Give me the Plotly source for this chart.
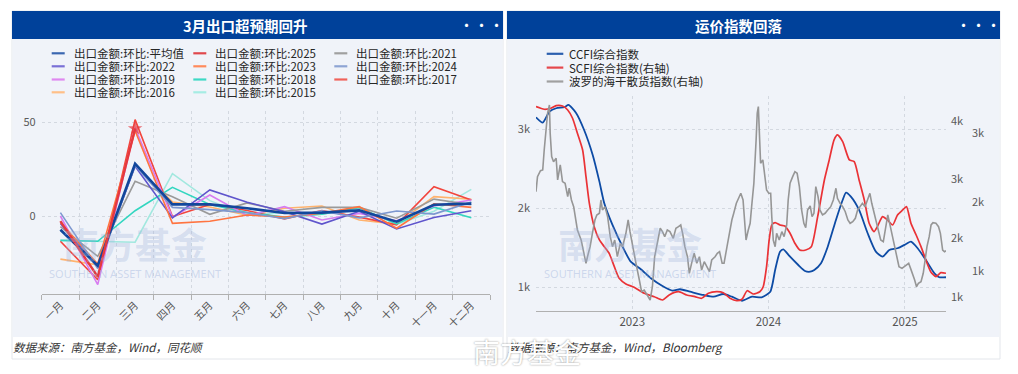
import plotly.graph_objects as go

# The page body has an 8px margin, so the figure is drawn 8px in; all
# positions below are given in screen pixels and converted.
OX, OY = 8, 8
W, H = 1002, 366
def fx(px): return (px - OX) / W
def fy(py): return 1 - (py - OY) / H

FONT = "Noto Sans CJK SC, Noto Sans, sans-serif"

# ---------------- left chart data ----------------
MONTHS = ["一月", "二月", "三月", "四月", "五月", "六月", "七月", "八月", "九月", "十月", "十一月", "十二月"]

Y_AVG  = [-7.3, -26.5, 27.9, 6.2, 6.2, 4.1, 1.6, 1.8, 3.0, -3.0, 6.0, 6.6]
Y_2025 = [-2.7, -32.4, 46.6]
Y_2021 = [-5.7, -21.5, 18.5, 10.3, 0.9, 7.0, 2.5, 4.6, 4.6, -1.2, 9.0, 6.0]
Y_2022 = [-4.0, -27.0, 26.5, -1.0, 13.9, 7.3, 2.3, -4.3, 2.5, -6.9, -0.8, 2.8]
Y_2023 = [-3.5, -25.6, 45.5, -3.9, -2.8, 0.5, -0.5, 1.5, 5.0, -6.5, 6.5, 4.6]
Y_2024 = [1.8, -28.0, 27.0, 4.6, 3.4, 1.8, -1.5, 2.7, -1.0, 2.7, 1.0, 7.5]
Y_2019 = [0.0, -36.6, 47.0, -0.7, 11.2, 0.2, 5.0, -2.1, 1.4, -2.5, 5.3, 8.5]
Y_2018 = [-13.0, -13.5, 2.8, 15.3, 6.2, 1.8, -0.6, 0.9, 4.4, -4.2, 4.7, -0.9]
Y_2017 = [-13.5, -34.0, 51.4, -0.3, 6.1, 2.9, -1.5, 2.9, -0.6, -4.7, 15.6, 8.5]
Y_2016 = [-23.0, -26.0, 27.0, 7.5, 4.8, 0.4, 4.1, 5.3, -2.1, -4.3, 10.3, 8.9]
Y_2015 = [-13.0, -13.6, -14.0, 22.6, 8.2, 0.6, 1.7, 0.9, 4.5, -4.5, 2.5, 14.2]

LEFT_NAMES = ["出口金额:环比:平均值", "出口金额:环比:2025", "出口金额:环比:2021",
              "出口金额:环比:2022", "出口金额:环比:2023", "出口金额:环比:2024",
              "出口金额:环比:2019", "出口金额:环比:2018", "出口金额:环比:2017",
              "出口金额:环比:2016", "出口金额:环比:2015"]
LEFT_VALUES = [Y_AVG, Y_2025, Y_2021, Y_2022, Y_2023, Y_2024, Y_2019, Y_2018, Y_2017, Y_2016, Y_2015]
LEFT_COLORS = ["#12479c", "#e5393f", "#9a9a9a", "#5f55cc", "#ff7440", "#7d97cf",
               "#d77cf0", "#33d6c0", "#f2453d", "#ffb36e", "#a2e8df"]
LEGEND_COLORS = ["#3a66b0", "#e0474c", "#a0a0a0", "#7a70d6", "#ff8a5c", "#8ea4d4",
                 "#df88f0", "#3dd9c5", "#f0625a", "#ffbf88", "#a6ece4"]
LEFT_WIDTHS = [2.6, 2.4, 1.6, 1.6, 1.6, 1.6, 1.6, 1.6, 1.6, 1.6, 1.6]
DRAW_ORDER = [10, 9, 8, 7, 6, 2, 3, 4, 5, 0, 1]

# ---------------- right chart data ----------------
CCFI_DATES = ["2022-04-18", "2022-05-06", "2022-05-24", "2022-06-11", "2022-07-03", "2022-07-14", "2022-08-03",
              "2022-08-25", "2022-09-17", "2022-10-05", "2022-10-18", "2022-11-09", "2022-12-06", "2022-12-28",
              "2023-01-24", "2023-02-20", "2023-03-23", "2023-04-19", "2023-05-09", "2023-06-05", "2023-07-11",
              "2023-08-07", "2023-09-02", "2023-09-25", "2023-10-22", "2023-11-18", "2023-12-14", "2024-01-06",
              "2024-01-19", "2024-02-01", "2024-02-10", "2024-02-28", "2024-03-21", "2024-04-08", "2024-04-22",
              "2024-05-03", "2024-05-21", "2024-06-08", "2024-06-30", "2024-07-18", "2024-07-27", "2024-08-09",
              "2024-08-31", "2024-09-23", "2024-10-15", "2024-11-02", "2024-11-20", "2024-12-12", "2025-01-04",
              "2025-01-17", "2025-02-04", "2025-02-26", "2025-03-21", "2025-04-03", "2025-04-21"]
CCFI = [3152, 3084, 3223, 3266, 3279, 3308, 3210,
        2991, 2675, 2337, 2063, 1789, 1514, 1324,
        1228, 1114, 1016, 957, 975, 944, 903,
        881, 915, 881, 830, 881, 873, 944,
        1219, 1451, 1481, 1387, 1282, 1206, 1197,
        1219, 1304, 1514, 1852, 2105, 2198, 2147,
        1979, 1684, 1451, 1387, 1472, 1494, 1548,
        1577, 1494, 1346, 1177, 1127, 1127]

SCFI_DATES = ["2022-04-18", "2022-05-10", "2022-05-28", "2022-06-11", "2022-06-28", "2022-07-12", "2022-07-25",
              "2022-08-07", "2022-08-21", "2022-08-30", "2022-09-08", "2022-09-21", "2022-10-05", "2022-10-18",
              "2022-10-31", "2022-11-14", "2022-11-27", "2022-12-15", "2023-01-06", "2023-02-02", "2023-03-01",
              "2023-03-23", "2023-04-10", "2023-05-05", "2023-05-27", "2023-06-18", "2023-07-06", "2023-07-24",
              "2023-08-15", "2023-09-02", "2023-09-20", "2023-10-08", "2023-10-22", "2023-11-05", "2023-11-21",
              "2023-12-09", "2023-12-18", "2023-12-27", "2024-01-03", "2024-01-10", "2024-01-19", "2024-02-01",
              "2024-02-14", "2024-02-28", "2024-03-12", "2024-03-25", "2024-04-10", "2024-04-25", "2024-05-12",
              "2024-05-30", "2024-06-12", "2024-06-25", "2024-07-04", "2024-07-18", "2024-08-05", "2024-08-18",
              "2024-08-31", "2024-09-14", "2024-09-27", "2024-10-10", "2024-10-19", "2024-11-02", "2024-11-15",
              "2024-11-29", "2024-12-12", "2024-12-26", "2025-01-05", "2025-01-17", "2025-01-31", "2025-02-13",
              "2025-02-26", "2025-03-11", "2025-03-25", "2025-04-07", "2025-04-21"]
SCFI = [4240, 4195, 4212, 4257, 4251, 4183, 4042,
        3786, 3501, 3046, 2592, 2194, 1967, 1853,
        1740, 1512, 1314, 1217, 1160, 1058, 1000,
        944, 1030, 1085, 1029, 1000, 973, 1058,
        1085, 1068, 973, 932, 956, 1102, 1046,
        1085, 1170, 1512, 1967, 2222, 2262, 2222,
        2205, 2081, 1910, 1796, 1796, 1853, 2364,
        2990, 3331, 3672, 3757, 3643, 3331, 3302,
        2990, 2649, 2252, 2109, 2194, 2364, 2308,
        2222, 2393, 2478, 2535, 2252, 2052, 1853,
        1626, 1426, 1341, 1409, 1399]

BDI_DATES = ["2022-04-18", "2022-04-22", "2022-04-30", "2022-05-06", "2022-05-10", "2022-05-15", "2022-05-19",
             "2022-05-24", "2022-05-26", "2022-05-30", "2022-06-04", "2022-06-11", "2022-06-15", "2022-06-22",
             "2022-06-28", "2022-07-05", "2022-07-12", "2022-07-16", "2022-07-22", "2022-07-28", "2022-08-03",
             "2022-08-07", "2022-08-17", "2022-08-24", "2022-08-30", "2022-09-03", "2022-09-10", "2022-09-17",
             "2022-09-23", "2022-09-28", "2022-10-05", "2022-10-09", "2022-10-13", "2022-10-20", "2022-10-27",
             "2022-11-03", "2022-11-09", "2022-11-15", "2022-11-22", "2022-11-30", "2022-12-06", "2022-12-15",
             "2022-12-21", "2022-12-26", "2023-01-02", "2023-01-11", "2023-01-20", "2023-01-26", "2023-02-02",
             "2023-02-11", "2023-02-18", "2023-02-24", "2023-03-02", "2023-03-09", "2023-03-17", "2023-03-23",
             "2023-03-29", "2023-04-05", "2023-04-12", "2023-04-21", "2023-04-28", "2023-05-05", "2023-05-11",
             "2023-05-16", "2023-05-22", "2023-05-29", "2023-06-03", "2023-06-09", "2023-06-16", "2023-06-23",
             "2023-06-30", "2023-07-06", "2023-07-13", "2023-07-20", "2023-07-27", "2023-08-02", "2023-08-11",
             "2023-08-17", "2023-08-23", "2023-08-30", "2023-09-04", "2023-09-12", "2023-09-19", "2023-09-25",
             "2023-09-30", "2023-10-07", "2023-10-13", "2023-10-19", "2023-10-25", "2023-10-28", "2023-11-02",
             "2023-11-08", "2023-11-13", "2023-11-17", "2023-11-23", "2023-11-29", "2023-12-02", "2023-12-05",
             "2023-12-07", "2023-12-11", "2023-12-17", "2023-12-22", "2023-12-27", "2024-01-02", "2024-01-07",
             "2024-01-10", "2024-01-14", "2024-01-19", "2024-01-23", "2024-01-30", "2024-02-06", "2024-02-12",
             "2024-02-19", "2024-02-23", "2024-02-28", "2024-03-06", "2024-03-12", "2024-03-18", "2024-03-24",
             "2024-03-30", "2024-04-05", "2024-04-10", "2024-04-15", "2024-04-22", "2024-04-27", "2024-05-02",
             "2024-05-07", "2024-05-13", "2024-05-18", "2024-05-25", "2024-06-01", "2024-06-08", "2024-06-16",
             "2024-06-23", "2024-06-30", "2024-07-04", "2024-07-11", "2024-07-18", "2024-07-25", "2024-08-01",
             "2024-08-07", "2024-08-14", "2024-08-21", "2024-08-27", "2024-09-02", "2024-09-09", "2024-09-16",
             "2024-09-23", "2024-09-29", "2024-10-04", "2024-10-10", "2024-10-17", "2024-10-22", "2024-10-28",
             "2024-11-04", "2024-11-11", "2024-11-16", "2024-11-21", "2024-11-27", "2024-12-03", "2024-12-09",
             "2024-12-16", "2024-12-24", "2024-12-30", "2025-01-05", "2025-01-11", "2025-01-16", "2025-01-21",
             "2025-01-27", "2025-02-01", "2025-02-06", "2025-02-13", "2025-02-19", "2025-02-24", "2025-03-01",
             "2025-03-07", "2025-03-12", "2025-03-17", "2025-03-25", "2025-04-01", "2025-04-06", "2025-04-12",
             "2025-04-17", "2025-04-21"]
BDI = [2146, 2363, 2450, 2460, 2750, 3088, 3282,
       3403, 2992, 2653, 2580, 2630, 2315, 2533,
       2291, 2267, 2073, 2195, 2025, 1928, 1687,
       1590, 1445, 1252, 1107, 1203, 1348, 1566,
       1735, 1808, 1832, 2025, 1880, 1928, 1783,
       1493, 1348, 1445, 1203, 1397, 1348, 1542,
       1735, 1566, 1348, 1107, 865, 696, 720,
       648, 575, 768, 1203, 1397, 1615, 1566,
       1493, 1590, 1566, 1470, 1615, 1638, 1663,
       1542, 1348, 1203, 962, 1107, 1252, 1107,
       1203, 1010, 1131, 1058, 986, 1155, 1203,
       1252, 1276, 1107, 1107, 1348, 1590, 1735,
       1832, 1977, 2050, 2122, 2025, 1735, 1445,
       1590, 1687, 1928, 2267, 2895, 3282, 3378,
       3088, 2557, 2605, 2363, 2170, 2122, 2122,
       1783, 1445, 1348, 1542, 1445, 1566, 1493,
       1663, 2025, 2267, 2363, 2436, 2412, 2218,
       1880, 1687, 1625, 1880, 1938, 1783, 1832,
       2218, 2073, 1880, 1808, 1832, 1880, 1928,
       2025, 2195, 2050, 1977, 1928, 1855, 1735,
       1687, 1711, 1760, 1880, 1928, 1977, 1928,
       2025, 2122, 1977, 1832, 1687, 1542, 1445,
       1421, 1638, 1808, 1687, 1542, 1348, 1203,
       1058, 1034, 1058, 1083, 1107, 1034, 962,
       865, 768, 817, 841, 962, 1155, 1348,
       1493, 1663, 1696, 1687, 1638, 1542, 1300,
       1276, 1290]

RIGHT_NAMES = ["CCFI综合指数", "SCFI综合指数(右轴)", "波罗的海干散货指数(右轴)"]
RIGHT_COLORS = ["#0d4ba5", "#ea3236", "#969696"]
RIGHT_LEGEND_COLORS = ["#2b5fae", "#e5474c", "#a0a0a0"]

YEAR_TICKS = ["2023-01-01", "2024-01-01", "2025-01-01"]
YEAR_LABELS = ["2023", "2024", "2025"]

fig = go.Figure()

# ---------------- left chart traces ----------------
for i in DRAW_ORDER:
    vals = LEFT_VALUES[i]
    is_cur = (i == 1)
    fig.add_trace(go.Scatter(
        x=MONTHS[:len(vals)], y=vals, name=LEFT_NAMES[i],
        mode="lines+markers" if is_cur else "lines",
        line=dict(color=LEFT_COLORS[i], width=LEFT_WIDTHS[i]),
        marker=dict(symbol="star", size=[0] * (len(vals) - 1) + [11], color=LEFT_COLORS[i],
                    line=dict(width=0)) if is_cur else None,
        xaxis="x", yaxis="y", showlegend=False, hoverinfo="skip"))

# ---------------- right chart traces ----------------
fig.add_trace(go.Scatter(x=BDI_DATES, y=BDI, name=RIGHT_NAMES[2], mode="lines",
                         line=dict(color=RIGHT_COLORS[2], width=1.6), xaxis="x2", yaxis="y4",
                         showlegend=False, hoverinfo="skip"))
fig.add_trace(go.Scatter(x=SCFI_DATES, y=SCFI, name=RIGHT_NAMES[1], mode="lines",
                         line=dict(color=RIGHT_COLORS[1], width=1.7, shape="spline", smoothing=0.6),
                         xaxis="x2", yaxis="y3", showlegend=False, hoverinfo="skip"))
fig.add_trace(go.Scatter(x=CCFI_DATES, y=CCFI, name=RIGHT_NAMES[0], mode="lines",
                         line=dict(color=RIGHT_COLORS[0], width=1.8, shape="spline", smoothing=0.6),
                         xaxis="x2", yaxis="y2", showlegend=False, hoverinfo="skip"))

GRID = "#d3d8e0"
TICKFONT = dict(family=FONT, size=11, color="#5a5a5a")

shapes = []
annotations = []

# ---------------- cards ----------------
for (x0, x1) in [(12, 503), (507, 1000)]:
    shapes.append(dict(type="rect", xref="paper", yref="paper", layer="below",
                       x0=fx(x0), x1=fx(x1), y0=fy(359), y1=fy(11),
                       fillcolor="#ffffff", line=dict(color="#e3e6eb", width=1)))
    shapes.append(dict(type="rect", xref="paper", yref="paper", layer="below",
                       x0=fx(x0 + 0.5), x1=fx(x1 - 0.5), y0=fy(337), y1=fy(39),
                       fillcolor="#f0f3f9", line=dict(width=0)))
    shapes.append(dict(type="rect", xref="paper", yref="paper", layer="below",
                       x0=fx(x0), x1=fx(x1), y0=fy(39), y1=fy(11),
                       fillcolor="#00419a", line=dict(width=0)))
    annotations.append(dict(xref="paper", yref="paper", x=fx(x1 - 22), y=fy(24.5), text="···",
                            showarrow=False, xanchor="center", yanchor="middle",
                            font=dict(family=FONT, size=15, color="#ffffff")))

annotations.append(dict(xref="paper", yref="paper", x=fx(245), y=fy(25), text="<b>3月出口超预期回升</b>",
                        showarrow=False, xanchor="center", yanchor="middle",
                        font=dict(family=FONT, size=14.5, color="#ffffff")))
annotations.append(dict(xref="paper", yref="paper", x=fx(739), y=fy(25), text="<b>运价指数回落</b>",
                        showarrow=False, xanchor="center", yanchor="middle",
                        font=dict(family=FONT, size=14.5, color="#ffffff")))

# ---------------- watermarks in plots ----------------
for xc in [135, 630]:
    annotations.append(dict(xref="paper", yref="paper", x=fx(xc), y=fy(243), text="<b>南方基金</b>",
                            showarrow=False, xanchor="center", yanchor="middle",
                            font=dict(family=FONT, size=36, color="rgba(160,180,220,0.33)")))
    annotations.append(dict(xref="paper", yref="paper", x=fx(xc), y=fy(273), text="SOUTHERN ASSET MANAGEMENT",
                            showarrow=False, xanchor="center", yanchor="middle",
                            font=dict(family="Noto Sans, sans-serif", size=11, color="rgba(160,180,220,0.45)")))

# ---------------- custom legends ----------------
LCOLS_LINE = [51.7, 193.3, 334.3]
LROWS = [53.3, 66.3, 79.5, 92.3]
for k, name in enumerate(LEFT_NAMES):
    r, c = divmod(k, 3)
    x0 = LCOLS_LINE[c]
    y0 = LROWS[r]
    shapes.append(dict(type="line", xref="paper", yref="paper", x0=fx(x0), x1=fx(x0 + 13),
                       y0=fy(y0), y1=fy(y0), line=dict(color=LEGEND_COLORS[k], width=2.2)))
    annotations.append(dict(xref="paper", yref="paper", x=fx(x0 + 20), y=fy(y0), text=name,
                            showarrow=False, xanchor="left", yanchor="middle",
                            font=dict(family=FONT, size=11.5, color="#262626")))

RROWS = [53.8, 67.6, 81.5]
for k, name in enumerate(RIGHT_NAMES):
    y0 = RROWS[k]
    shapes.append(dict(type="line", xref="paper", yref="paper", x0=fx(546.7), x1=fx(563.3),
                       y0=fy(y0), y1=fy(y0), line=dict(color=RIGHT_LEGEND_COLORS[k], width=2.2)))
    annotations.append(dict(xref="paper", yref="paper", x=fx(567), y=fy(y0), text=name,
                            showarrow=False, xanchor="left", yanchor="middle",
                            font=dict(family=FONT, size=11.5, color="#262626")))

# ---------------- sources ----------------
annotations.append(dict(xref="paper", yref="paper", x=fx(11), y=fy(347), text="数据来源：南方基金，Wind，同花顺",
                        showarrow=False, xanchor="left", yanchor="middle",
                        font=dict(family=FONT, size=11.5, color="#333333", style="italic")))
annotations.append(dict(xref="paper", yref="paper", x=fx(506), y=fy(347),
                        text="数据来源：南方基金，Wind，Bloomberg",
                        showarrow=False, xanchor="left", yanchor="middle",
                        font=dict(family=FONT, size=11.5, color="#333333", style="italic")))
# weibo repost watermark
annotations.append(dict(xref="paper", yref="paper", x=fx(471), y=fy(351), text="南方基金",
                        showarrow=False, xanchor="left", yanchor="middle",
                        font=dict(family=FONT, size=27, color="#ffffff",
                                  shadow="0px 0px 2px rgba(0,0,0,0.45)")))

fig.update_layout(
    width=W, height=H, autosize=False,
    margin=dict(l=0, r=0, t=0, b=0),
    paper_bgcolor="#ffffff", plot_bgcolor="rgba(0,0,0,0)",
    font=dict(family=FONT),
    showlegend=False,
    shapes=shapes, annotations=annotations,
    xaxis=dict(domain=[fx(41.7), fx(490)], anchor="y", type="category",
               categoryorder="array", categoryarray=MONTHS, range=[-0.5, 11.5],
               tickson="boundaries", ticks="outside", ticklen=5, tickcolor="#b0b0b0",
               showline=True, linecolor="#b0b0b0", linewidth=1,
               showgrid=True, gridcolor=GRID, griddash="dot", gridwidth=1,
               tickangle=-45, tickfont=dict(family=FONT, size=10.5, color="#555555"),
               fixedrange=True),
    yaxis=dict(domain=[fy(294), fy(111)], anchor="x", range=[-41.6, 56],
               tickvals=[0, 50], ticktext=["0", "50"],
               showgrid=True, gridcolor=GRID, griddash="dot", gridwidth=1,
               zeroline=False, showline=False, ticks="", ticklabelstandoff=5,
               tickfont=TICKFONT, fixedrange=True),
    xaxis2=dict(domain=[fx(536), fx(946)], anchor="y2", type="date",
                range=["2022-04-18", "2025-04-21"],
                tickvals=YEAR_TICKS, ticktext=YEAR_LABELS, tickangle=0,
                showgrid=True, gridcolor=GRID, griddash="dot", gridwidth=1,
                showline=True, linecolor="#b0b0b0", linewidth=1, ticks="",
                tickfont=dict(family=FONT, size=11.5, color="#555555"), fixedrange=True),
    yaxis2=dict(domain=[fy(311), fy(96)], anchor="x2", range=[700, 3421],
                tickvals=[1000, 2000, 3000], ticktext=["1k", "2k", "3k"],
                showgrid=True, gridcolor=GRID, griddash="dot", gridwidth=1,
                zeroline=False, showline=False, ticks="", ticklabelstandoff=5,
                tickfont=TICKFONT, fixedrange=True),
    yaxis3=dict(overlaying="y2", side="right", anchor="x2", range=[756, 4421],
                tickvals=[1000, 2000, 3000, 4000], ticktext=["1k", "2k", "3k", "4k"],
                showgrid=False, zeroline=False, showline=False, ticks="", ticklabelstandoff=4,
                tickfont=TICKFONT, fixedrange=True),
    yaxis4=dict(overlaying="y2", side="right", anchor="free", position=fx(967), range=[416, 3532],
                tickvals=[1000, 2000, 3000], ticktext=["1k", "2k", "3k"],
                showgrid=False, zeroline=False, showline=False, ticks="", ticklabelstandoff=4,
                tickfont=TICKFONT, fixedrange=True),
)

fig.write_html("out.html", config={"displayModeBar": False, "staticPlot": True})
